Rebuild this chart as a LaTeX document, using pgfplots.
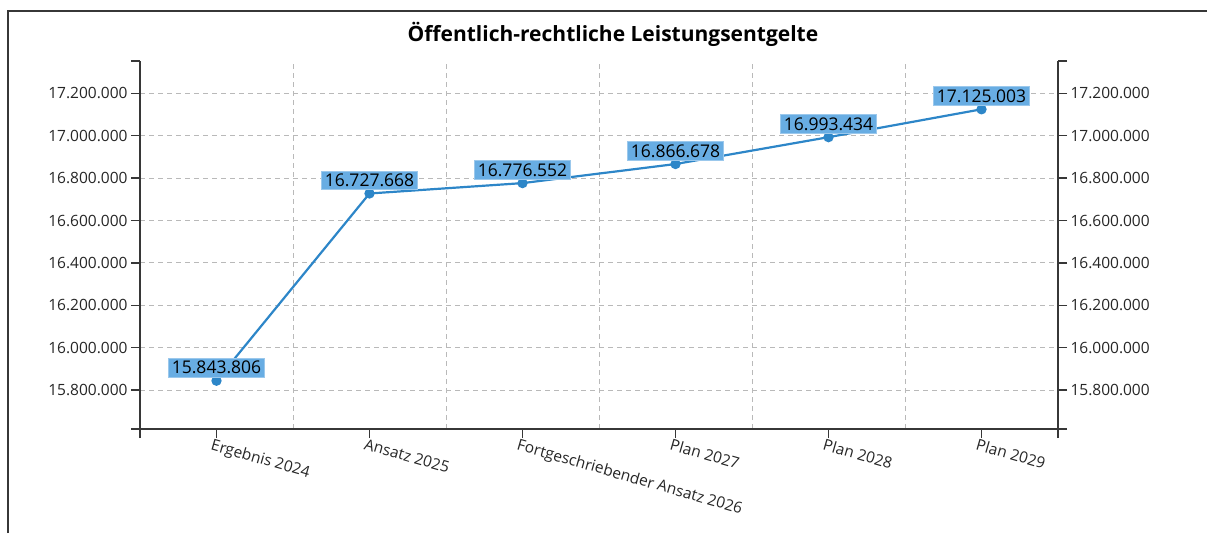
\documentclass[border=0pt]{standalone}
\usepackage{fontspec}
\setmainfont{Open Sans}
\usepackage{pgfplots}
\pgfplotsset{compat=1.18}
\definecolor{linie}{RGB}{45,134,200}
\definecolor{labelfill}{RGB}{104,173,227}
\definecolor{labeldraw}{RGB}{155,200,236}
\definecolor{achse}{RGB}{55,55,55}
\definecolor{gitter}{RGB}{185,185,185}
\pgfplotsset{base/.style={
  scale only axis, width=918pt, height=368pt,
  xmin=-0.5, xmax=5.5, ymin=15616000, ymax=17353000,
  tick align=outside, major tick length=9pt,
  axis line style={achse, line width=1.6pt},
  every tick/.style={achse, line width=1.4pt},
  scaled y ticks=false,
  ytick={15800000,16000000,16200000,16400000,16600000,16800000,17000000,17200000},
  yticklabel style={/pgf/number format/.cd, fixed, precision=0, 1000 sep={.}},
  /pgf/number format/assume math mode=true,
  tick label style={font=\fontsize{15.5}{18}\selectfont, text=black!85},
  extra y ticks={15616000,17353000}, extra y tick labels={},
  extra y tick style={grid=none},
}}

\begin{document}
\begin{tikzpicture}
  \useasboundingbox (0,0) rectangle (1207pt,533pt);
  \draw[achse, line width=1.3pt] (8pt,0pt) -- (8pt,522pt) -- (1207pt,522pt);
  \begin{axis}[base, at={(140pt,104pt)}, anchor=south west,
    axis x line*=bottom, axis y line*=left, clip=false,
    xtick={0,1,2,3,4,5},
    xticklabels={Ergebnis 2024, Ansatz 2025, Fortgeschriebender Ansatz 2026,
                 Plan 2027, Plan 2028, Plan 2029},
    xticklabel style={rotate=-16, anchor=north west, inner sep=1pt, xshift=-4pt},
    minor xtick={0.5,1.5,2.5,3.5,4.5}, xminorgrids, minor tick length=0pt,
    ymajorgrids,
    grid style={gitter, line width=1pt, dash pattern=on 5pt off 4pt},
    minor grid style={gitter, line width=1pt, dash pattern=on 5pt off 4pt},
    extra x ticks={-0.5,5.5}, extra x tick labels={}, extra x tick style={grid=none},
    title={Öffentlich-rechtliche Leistungsentgelte},
    title style={font=\bfseries\fontsize{21}{25}\selectfont, at={(0.5,1)},
      anchor=center, yshift=21pt, xshift=14pt}]
    \addplot[linie, line width=2.2pt, mark=*, mark size=4pt,
      mark options={fill=linie, draw=linie},
      nodes near coords, point meta=explicit symbolic,
      every node near coord/.append style={fill=labelfill, draw=labeldraw,
        line width=1pt, text=black, font=\fontsize{17.5}{20}\selectfont,
        inner sep=3pt, anchor=south, yshift=3pt}]
      coordinates {
        (0,15843806)[15.843.806]
        (1,16727668)[16.727.668]
        (2,16776552)[16.776.552]
        (3,16866678)[16.866.678]
        (4,16993434)[16.993.434]
        (5,17125003)[17.125.003]
      };
  \end{axis}
  \begin{axis}[base, at={(140pt,104pt)}, anchor=south west,
    axis x line=none, axis y line*=right]
    \addplot[draw=none] coordinates {(0,16000000)};
  \end{axis}
\end{tikzpicture}
\end{document}
